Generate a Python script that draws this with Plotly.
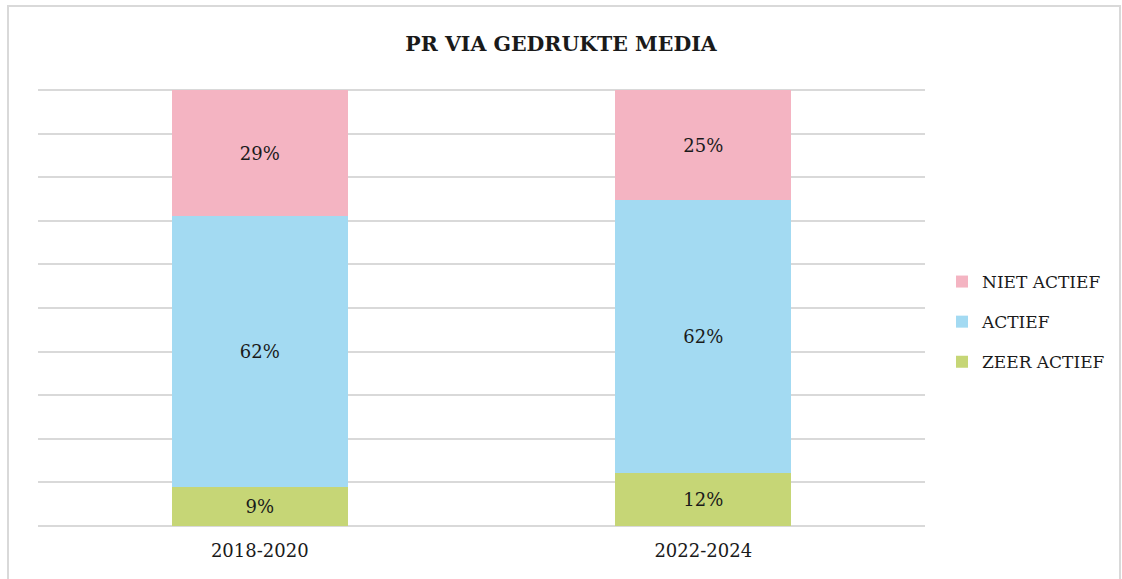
import plotly.graph_objects as go

categories = ["2018-2020", "2022-2024"]
zeer_actief = [9, 12]
actief = [62, 62]
niet_actief = [29, 25]
series_names = ["ZEER ACTIEF", "ACTIEF", "NIET ACTIEF"]
colors = ["#C6D676", "#A3DAF2", "#F4B4C2"]
legend_ranks = [3, 2, 1]

FONT = "DejaVu Serif"
TXT = "#1a1a1a"
GRID = "#D9D9D9"
fig = go.Figure()
for i, (name, vals, col) in enumerate(zip(series_names, [zeer_actief, actief, niet_actief], colors)):
    fig.add_trace(go.Bar(
        x=categories, y=vals, name=name, marker=dict(color=col, line=dict(width=0)),
        text=[f"{v}%" for v in vals], textposition="inside", insidetextanchor="middle",
        textfont=dict(family=FONT, size=18, color=TXT), legendgroup=f"g{i}",
        legendrank=legend_ranks[i], hoverinfo="skip",
    ))

W, H = 1122, 579
l, r, t, b = 38, 197, 90, 53
pw, ph = W - l - r, H - t - b

fig.update_layout(
    width=W, height=H, barmode="stack", barnorm="percent", bargap=0.603,
    margin=dict(l=l, r=r, t=t, b=b, autoexpand=False),
    plot_bgcolor="white", paper_bgcolor="white",
    title=dict(text="<b>PR VIA GEDRUKTE MEDIA</b>", x=0.5, xref="container",
               xanchor="center", y=1 - 44 / H, yanchor="middle",
               font=dict(family=FONT, size=20.5, color=TXT)),
    font=dict(family=FONT, color=TXT),
    legend=dict(x=(942 - l) / pw, xanchor="left", y=(526 - 264) / ph, yanchor="top",
                traceorder="grouped", tracegroupgap=15,
                font=dict(family=FONT, size=17, color=TXT), itemwidth=30),
    showlegend=True,
    xaxis=dict(showgrid=False, showline=False, ticks="", ticklabelstandoff=12,
               tickfont=dict(family=FONT, size=18, color=TXT)),
    yaxis=dict(range=[0, 100], dtick=10, showticklabels=False, showgrid=True, gridcolor=GRID,
               gridwidth=2, zeroline=True, zerolinecolor=GRID, zerolinewidth=2, fixedrange=True),
    shapes=[
        dict(type="rect", xref="paper", yref="paper",
             x0=(8 - l) / pw, x1=(1120 - l) / pw, y0=(526 - 590) / ph, y1=(526 - 6) / ph,
             line=dict(color=GRID, width=2), fillcolor="rgba(0,0,0,0)", layer="below"),
        dict(type="line", xref="paper", yref="paper", x0=0, x1=1, y0=1, y1=1,
             line=dict(color=GRID, width=2), layer="below"),
    ],
)
fig.write_html("out.html", config={"displayModeBar": False},
               post_script="document.body.style.margin='0';document.body.style.overflow='hidden';")
